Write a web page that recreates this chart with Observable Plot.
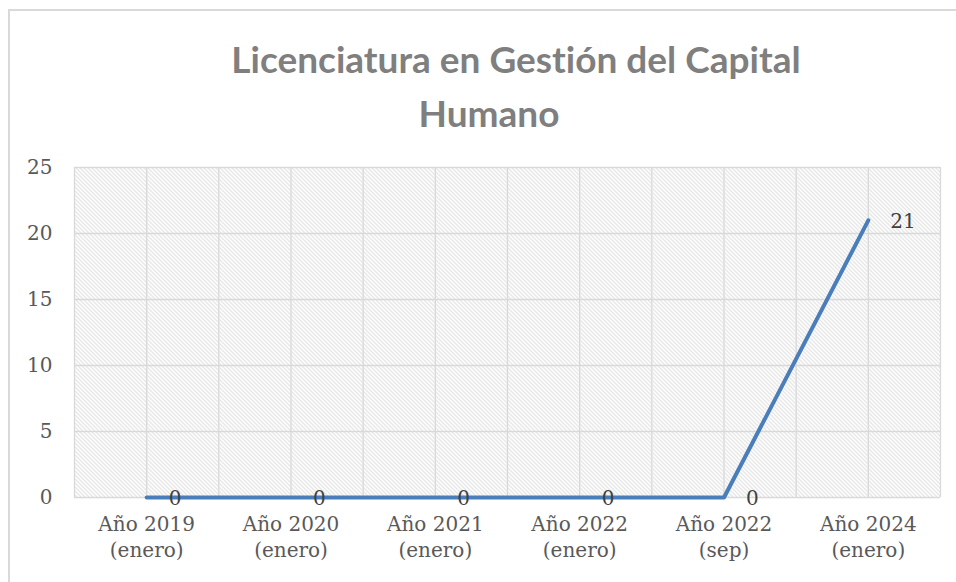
<!DOCTYPE html>
<html>
<head>
<meta charset="utf-8">
<script src="https://cdn.jsdelivr.net/npm/d3@7"></script>
<script src="https://cdn.jsdelivr.net/npm/@observablehq/plot@0.6"></script>
<style>
  html, body { margin: 0; padding: 0; background: #fff; overflow: hidden; }
  #wrap { position: relative; width: 956px; height: 582px; overflow: hidden; }
  #border { position: absolute; left: 8px; top: 9px; width: 1000px; height: 700px; border: 2px solid #d9d9d9; box-sizing: border-box; }
  .title { position: absolute; transform: translateX(-50%); font-family: Lato, "Open Sans", sans-serif; font-weight: 700; font-size: 37px; color: #7f7f7f; white-space: nowrap; line-height: 1; font-variant-ligatures: none; font-feature-settings: "liga" 0; }
  #chart { position: absolute; left: 0; top: 140px; }
</style>
</head>
<body>
<svg width="0" height="0" style="position:absolute">
  <defs>
    <pattern id="hatch" width="4" height="4" patternUnits="userSpaceOnUse">
      <path d="M-1,-1 L5,5 M-1,3 L1,5 M3,-1 L5,1" stroke="#cfcfcf" stroke-width="1"/>
    </pattern>
  </defs>
</svg>
<div id="wrap">
  <div id="border"></div>
  <div class="title" id="t1" style="left:516px; top:40px;"></div>
  <div class="title" id="t2" style="left:489px; top:94px;"></div>
  <div id="chart"></div>
</div>
<script>
const titleLines = ["Licenciatura en Gestión del Capital", "Humano"];
const categories = ["Año 2019\n(enero)", "Año 2020\n(enero)", "Año 2021\n(enero)", "Año 2022\n(enero)", "Año 2022\n(sep)", "Año 2024\n(enero)"];
const values = [0, 0, 0, 0, 0, 21];
const yTicks = [0, 5, 10, 15, 20, 25];

document.getElementById("t1").textContent = titleLines[0];
document.getElementById("t2").textContent = titleLines[1];

const n = categories.length;
const data = categories.map((c, i) => ({i, label: c, value: values[i]}));
const xIdx = d3.range(n);
const xGrid = d3.range(-0.5, n, 0.5);
const font = "'DejaVu Serif', serif";

const plot = Plot.plot({
  width: 956,
  height: 442,
  marginTop: 27,
  marginBottom: 85,
  marginLeft: 74,
  marginRight: 16,
  style: {fontFamily: font, fontSize: "20px", color: "#595959", background: "transparent"},
  x: {domain: [-0.5, n - 0.5]},
  y: {domain: [0, 25]},
  marks: [
    Plot.frame({fill: "url(#hatch)", stroke: null}),
    Plot.ruleX(xGrid, {stroke: "#d9d9d9", strokeWidth: 1.3}),
    Plot.ruleY(yTicks, {stroke: "#d9d9d9", strokeWidth: 1.3}),
    Plot.axisY({ticks: yTicks, tickSize: 0, tickPadding: 22, label: null, fontSize: 20, fill: "#595959"}),
    Plot.axisX({ticks: xIdx, tickFormat: i => categories[i], tickSize: 0, tickPadding: 15, label: null, fontSize: 20, lineHeight: 1.3, fill: "#595959"}),
    Plot.line(data, {x: "i", y: "value", stroke: "#4a7ebb", strokeWidth: 4, strokeLinejoin: "round", strokeLinecap: "round"}),
    Plot.text(data, {x: "i", y: "value", text: d => String(d.value), textAnchor: "start", dx: 22, dy: 1, fill: "#404040", fontSize: 20})
  ]
});
document.getElementById("chart").appendChild(plot);
</script>
</body>
</html>
